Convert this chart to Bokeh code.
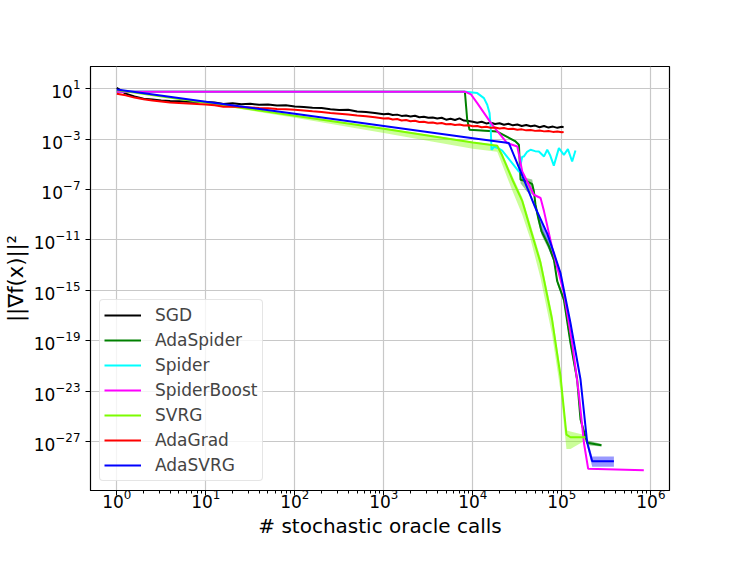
from bokeh.plotting import figure
from bokeh.models import Range1d, FixedTicker, Legend, LegendItem
from bokeh.embed import file_html
from bokeh.resources import INLINE

# ---------------- data ----------------
x_sgd = [1, 1.26, 1.58, 2.0, 2.51, 3.16, 3.98, 5.01, 6.31, 7.94,
         10, 12.6, 15.8, 20, 25.1, 31.6, 39.8, 50.1, 63.1, 79.4,
         100, 126, 158, 200, 251, 316, 398, 501, 631, 794, 1000,
         1122, 1259, 1413, 1585, 1778, 1995, 2239, 2512, 2818, 3162,
         3548, 3981, 4467, 5012, 5623, 6310, 7079, 7943, 8913, 10000,
         11220, 12589, 14125, 15849, 17783, 19953, 22387, 25119, 28184, 31623,
         35481, 39811, 44668, 50119, 56234, 63096, 70795, 79433, 89125, 100000,
         104713]
y_sgd = [12.0, 4.17, 2.51, 1.66, 1.41, 1.20, 1.07, 1.05, 0.955, 0.933,
         0.891, 0.832, 0.631, 0.708, 0.603, 0.661, 0.537, 0.562, 0.468, 0.501,
         0.398, 0.355, 0.316, 0.302, 0.240, 0.209, 0.219, 0.158, 0.141, 0.120, 0.0955,
         0.105, 0.0832, 0.0891, 0.0708, 0.0759, 0.0631, 0.0724, 0.0550, 0.0603, 0.0501,
         0.0525, 0.0447, 0.0501, 0.0355, 0.0417, 0.0331, 0.0447, 0.0302, 0.0282, 0.0240,
         0.0200, 0.0240, 0.0178, 0.0200, 0.0158, 0.0182, 0.0141, 0.0166, 0.0126, 0.0145,
         0.0112, 0.0132, 0.0105, 0.0120, 0.00891, 0.0112, 0.00832, 0.0100, 0.00794, 0.00955,
         0.00891]
y_adagrad = [3.98, 3.02, 2.0, 1.51, 1.20, 1.0, 0.832, 0.759, 0.692, 0.631,
             0.575, 0.501, 0.380, 0.398, 0.355, 0.331, 0.302, 0.282, 0.251, 0.240,
             0.219, 0.191, 0.166, 0.145, 0.120, 0.105, 0.0912, 0.0759, 0.0661, 0.0550, 0.0447,
             0.0457, 0.0363, 0.0398, 0.0302, 0.0331, 0.0263, 0.0288, 0.0229, 0.0240, 0.0200,
             0.0214, 0.0174, 0.0191, 0.0151, 0.0162, 0.0135, 0.0145, 0.0120, 0.0129, 0.0105,
             0.0110, 0.00891, 0.00955, 0.00794, 0.00832, 0.00708, 0.00759, 0.00631, 0.00676, 0.00562,
             0.00603, 0.00501, 0.00537, 0.00457, 0.00490, 0.00417, 0.00447, 0.00380, 0.00407, 0.00355,
             0.00372]

x_adaspider = [1, 8147, 8650, 9183, 18793, 30200, 32961, 34356, 40832, 46452, 48529,
               50582, 54325, 59156, 71614, 81470, 88716, 105439, 125026, 148594, 162181,
               192752, 278612]
y_adaspider = [5.75, 5.75, 0.0347, 5.62e-3, 4.07e-3, 6.61e-4, 3.63e-4, 6.03e-7, 4.47e-7, 2.69e-7, 7.24e-8,
               6.31e-9, 5.5e-10, 4.79e-11, 3.09e-12, 2.75e-13, 5.25e-15, 1.82e-16, 6.76e-20, 8.32e-23, 5.5e-26,
               7.94e-28, 5.13e-28]
lo_adaspider = [5.75, 5.75, 0.0316, 5.01e-3, 3.55e-3, 5.62e-4, 3.16e-4, 3.16e-7, 6.31e-8, 3.98e-8, 3.16e-8,
                3.16e-9, 2.51e-10, 2.51e-11, 1.58e-12, 1.58e-13, 3.16e-15, 1.0e-16, 3.16e-20, 3.16e-23, 2.51e-26,
                5.01e-28, 3.98e-28]
hi_adaspider = [5.75, 5.75, 0.0398, 6.31e-3, 4.47e-3, 7.59e-4, 3.98e-4, 1.0e-6, 7.94e-7, 6.31e-7, 1.26e-7,
                1.26e-8, 1.0e-9, 1.0e-10, 6.31e-12, 5.01e-13, 1.0e-14, 3.16e-16, 1.26e-19, 1.58e-22, 1.0e-25,
                1.26e-27, 6.31e-28]

x_spider = [1, 8279, 11220, 13335, 14521, 15417, 15849, 16218, 17378, 19055, 21380, 33113, 35892,
            37497, 40738, 44463, 50119, 55208, 63096, 68549, 74131, 81283, 92683, 105439, 116950,
            130617, 142233]
y_spider = [5.75, 5.75, 4.57, 1.82, 0.537, 0.117, 0.0102, 1.45e-4, 2.51e-4, 2.0e-4, 1.26e-4, 2.51e-6, 3.98e-5,
            4.27e-5, 1.0e-4, 1.45e-4, 1.12e-4, 1.07e-4, 4.27e-5, 1.45e-4, 5.01e-5, 7.94e-6, 1.95e-4, 5.75e-5, 1.62e-4,
            1.7e-5, 1.26e-4]

x_spiderboost = [1, 8279, 9550, 11220, 16520, 24322, 31623, 35892, 48529, 57677, 63096, 77983,
                 105439, 130617, 154882, 177011, 197697, 833681]
y_spiderboost = [5.75, 5.75, 3.55, 0.724, 0.0138, 4.9e-4, 2.63e-4, 2.75e-6, 3.89e-8, 2.14e-8, 1.86e-9, 2.29e-12,
                 6.31e-16, 6.76e-20, 7.24e-24, 7.94e-28, 6.76e-30, 5.25e-30]

x_svrg = [1, 10, 100, 1000, 10000, 18793, 21380, 28184, 35892, 44668, 57544, 77625, 96605,
          112720, 125026, 184502]
y_svrg = [7.94, 0.794, 0.0724, 6.76e-3, 5.5e-4, 3.02e-4, 5.01e-5, 5.01e-7, 1.26e-8, 6.31e-11, 1.58e-13,
          5.01e-18, 1.58e-22, 3.55e-27, 2.19e-27, 2.19e-27]
lo_svrg = [7.94, 0.708, 0.0501, 3.16e-3, 1.78e-4, 1.0e-4, 1.0e-5, 6.31e-8, 1.0e-9, 1.0e-11, 1.0e-14,
           3.16e-19, 1.0e-23, 2.51e-28, 2.51e-28, 1.26e-27]
hi_svrg = [7.94, 0.832, 0.0794, 7.94e-3, 6.31e-4, 3.55e-4, 7.94e-5, 1.0e-6, 2.51e-8, 1.58e-10, 3.98e-13,
           1.58e-17, 5.01e-22, 7.94e-27, 6.31e-27, 3.16e-27]

x_adasvrg = [1, 10, 100, 1000, 10000, 25410, 35481, 50119, 68549, 81470, 96605, 125026, 162181,
             192752, 219288, 384592]
y_adasvrg = [8.91, 0.955, 0.105, 0.0112, 1.2e-3, 4.9e-4, 1.58e-6, 3.98e-9, 3.16e-11, 9.33e-13, 2.4e-14,
             2.57e-18, 8.32e-23, 7.94e-28, 2.75e-29, 2.75e-29]
lo_adasvrg = [8.91, 0.955, 0.105, 0.0112, 1.12e-3, 4.47e-4, 1.26e-6, 2.51e-9, 3.98e-12, 1.58e-13, 1.0e-14,
              1.58e-18, 5.01e-23, 3.98e-28, 1.0e-29, 1.0e-29]
hi_adasvrg = [8.91, 0.955, 0.105, 0.0112, 1.26e-3, 5.25e-4, 2.0e-6, 5.01e-9, 3.98e-11, 1.26e-12, 3.16e-14,
              3.98e-18, 1.26e-22, 1.58e-27, 6.31e-29, 6.31e-29]

x_ticks = [1, 10, 100, 1000, 10000, 100000, 1000000]
y_ticks = [1e1, 1e-3, 1e-7, 1e-11, 1e-15, 1e-19, 1e-23, 1e-27]

# ---------------- figure ----------------
FONT = "DejaVu Sans"
p = figure(frame_width=579, frame_height=424,
           x_axis_type="log", y_axis_type="log",
           x_range=Range1d(0.507, 1.62e6), y_range=Range1d(1.29e-31, 589),
           output_backend="svg", toolbar_location=None,
           min_border_left=90, min_border_right=50, min_border_top=66, min_border_bottom=54)
p.background_fill_color = "white"
p.border_fill_color = "white"
p.outline_line_color = "black"
p.outline_line_width = 1.2

minor = [m * d for d in [1, 10, 100, 1000, 10000, 100000] for m in range(2, 10)]
p.xaxis.ticker = FixedTicker(ticks=x_ticks, minor_ticks=minor)
p.yaxis.ticker = FixedTicker(ticks=y_ticks, minor_ticks=[])
for ax in (p.xaxis[0], p.yaxis[0]):
    ax.major_label_text_font = FONT
    ax.major_label_text_font_size = "17px"
    ax.major_label_text_color = "black"
    ax.axis_label_text_font = FONT
    ax.axis_label_text_font_style = "normal"
    ax.axis_label_text_color = "black"
    ax.axis_line_color = "black"
    ax.major_tick_line_color = "black"
    ax.minor_tick_line_color = "black"
    ax.major_tick_out = 5
    ax.major_tick_in = 0
    ax.minor_tick_out = 3
    ax.minor_tick_in = 0
p.xaxis.axis_label = "# stochastic oracle calls"
p.yaxis.axis_label = "||∇f(x)||²"
p.xaxis.axis_label_text_font_size = "20px"
p.yaxis.axis_label_text_font_size = "21px"
p.xaxis.major_label_standoff = -7
p.xaxis.axis_label_standoff = 3
p.yaxis.axis_label_standoff = 3

p.xgrid.grid_line_color = "#c8c8c8"
p.ygrid.grid_line_color = "#c8c8c8"
p.xgrid.grid_line_width = 1.2
p.ygrid.grid_line_width = 1.2

LW = 2
# bands
p.varea(x=x_adaspider, y1=lo_adaspider, y2=hi_adaspider, fill_color="green", fill_alpha=0.4)
p.varea(x=x_svrg, y1=lo_svrg, y2=hi_svrg, fill_color="#7cfc00", fill_alpha=0.4)
p.varea(x=x_adasvrg, y1=lo_adasvrg, y2=hi_adasvrg, fill_color="blue", fill_alpha=0.4)

r_sgd = p.line(x_sgd, y_sgd, line_color="black", line_width=LW)
r_adaspider = p.line(x_adaspider, y_adaspider, line_color="green", line_width=LW)
r_spider = p.line(x_spider, y_spider, line_color="cyan", line_width=LW)
r_spiderboost = p.line(x_spiderboost, y_spiderboost, line_color="magenta", line_width=LW)
r_svrg = p.line(x_svrg, y_svrg, line_color="#7cfc00", line_width=LW)
r_adagrad = p.line(x_sgd, y_adagrad, line_color="red", line_width=LW)
r_adasvrg = p.line(x_adasvrg, y_adasvrg, line_color="blue", line_width=LW)

legend = Legend(items=[
    LegendItem(label="SGD", renderers=[r_sgd]),
    LegendItem(label="AdaSpider", renderers=[r_adaspider]),
    LegendItem(label="Spider", renderers=[r_spider]),
    LegendItem(label="SpiderBoost", renderers=[r_spiderboost]),
    LegendItem(label="SVRG", renderers=[r_svrg]),
    LegendItem(label="AdaGrad", renderers=[r_adagrad]),
    LegendItem(label="AdaSVRG", renderers=[r_adasvrg]),
], location="bottom_left")
legend.margin = 9
legend.padding = 4
legend.spacing = 3
legend.glyph_width = 37
legend.glyph_height = 22
legend.label_height = 22
legend.label_standoff = 14
legend.label_text_font = FONT
legend.label_text_font_size = "17px"
legend.border_line_color = "#cccccc"
legend.border_line_width = 1
legend.background_fill_alpha = 0.8
legend.border_radius = 4
p.add_layout(legend)

open("out.html", "w").write(file_html(p, INLINE))
